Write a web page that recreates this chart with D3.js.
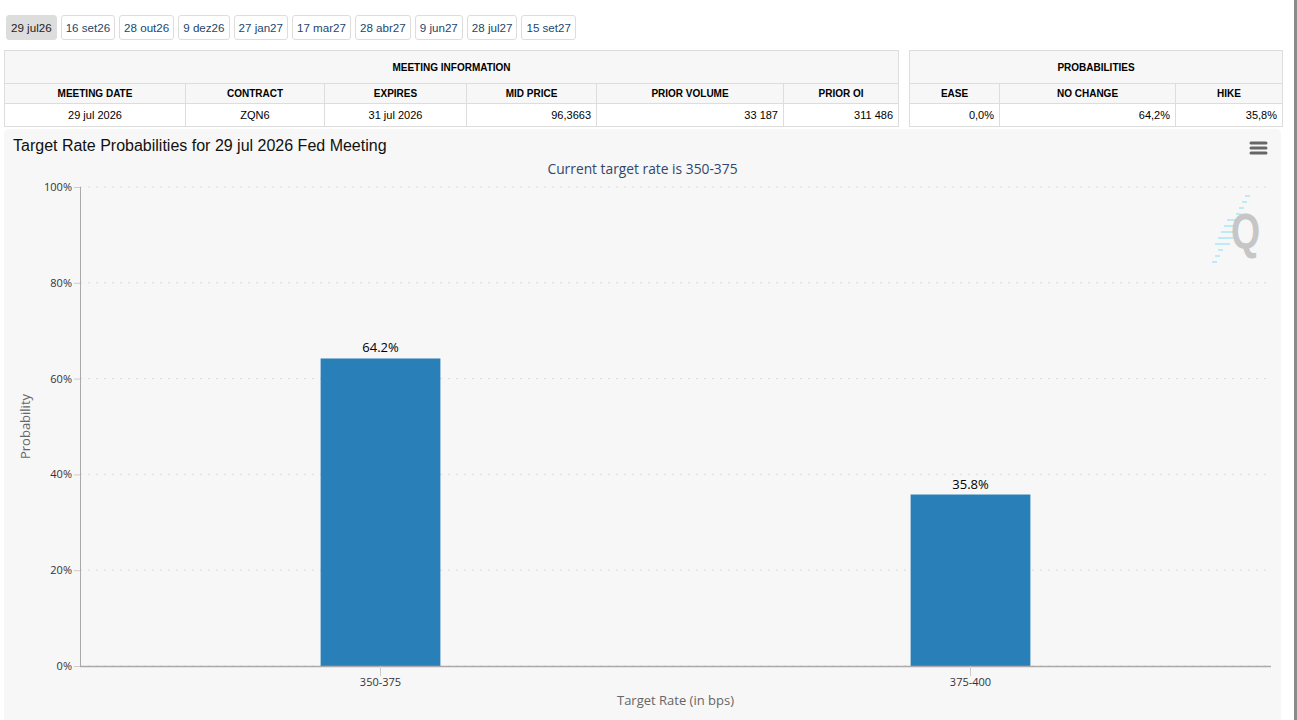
<!DOCTYPE html>
<html>
<head>
<meta charset="utf-8">
<script src="https://cdn.jsdelivr.net/npm/d3@7"></script>
<style>
  body { margin: 0; background: #fff; font-family: Arial, "Liberation Sans", sans-serif; width: 1297px; height: 720px; overflow: hidden; position: relative; }
  #tabs { position: absolute; left: 6px; top: 15px; display: flex; gap: 4px; }
  .tab { height: 23px; line-height: 23px; padding: 0 4px; border: 1px solid #ddd; border-radius: 3px; font-size: 11.6px; color: #23466e; background: #fff; white-space: nowrap; text-align: center; }
  .tab.active { background: #ddd; color: #222; border-color: #ddd; }
  table { position: absolute; border-collapse: collapse; table-layout: fixed; font-size: 11px; color: #000; }
  td, th { border: 1px solid #ddd; padding: 0 5px; overflow: hidden; white-space: nowrap; }
  th { font-size: 10px; font-weight: bold; background: #f7f7f7; text-align: center; }
  tr.title th { height: 32px; }
  tr.head th { height: 19px; }
  tr.data td { height: 22px; }
  #chart { position: absolute; left: 4px; top: 129px; width: 1277px; height: 600px; background: #f7f7f7; border-radius: 5px; }
  #scroll { position: absolute; left: 1294px; top: 0; width: 3px; height: 720px; background: #8a8a8a; }
</style>
</head>
<body>
<div id="tabs"></div>
<table id="meeting"></table>
<table id="probs"></table>
<div id="chart"></div>
<div id="scroll"></div>
<script>
// meeting tabs
var meetingTabs = ["29 jul26", "16 set26", "28 out26", "9 dez26", "27 jan27", "17 mar27", "28 abr27", "9 jun27", "28 jul27", "15 set27"];

// tables
var meetingHeaders = ["MEETING DATE", "CONTRACT", "EXPIRES", "MID PRICE", "PRIOR VOLUME", "PRIOR OI"];
var meetingRow = ["29 jul 2026", "ZQN6", "31 jul 2026", "96,3663", "33 187", "311 486"];
var meetingAlign = ["center", "center", "center", "right", "right", "right"];
var meetingWidths = [181, 139, 142, 130, 187, 115];

var probHeaders = ["EASE", "NO CHANGE", "HIKE"];
var probRow = ["0,0%", "64,2%", "35,8%"];
var probWidths = [90, 176, 107];

// chart data
var categories = ["350-375", "375-400"];
var probabilities = [64.2, 35.8];
var yTicks = [0, 20, 40, 60, 80, 100];

d3.select("#tabs").selectAll("div")
    .data(meetingTabs)
    .enter().append("div")
    .attr("class", function (d, i) { return i === 0 ? "tab active" : "tab"; })
    .text(function (d) { return d; });

function buildTable(sel, title, headers, row, widths, align, left, top) {
    var total = d3.sum(widths);
    var t = d3.select(sel)
        .style("left", left + "px")
        .style("top", top + "px")
        .style("width", total + "px");
    t.append("colgroup").selectAll("col")
        .data(widths).enter().append("col")
        .style("width", function (d) { return d + "px"; });
    t.append("tr").attr("class", "title")
        .append("th").attr("colspan", headers.length).text(title);
    t.append("tr").attr("class", "head").selectAll("th")
        .data(headers).enter().append("th").text(function (d) { return d; });
    t.append("tr").attr("class", "data").selectAll("td")
        .data(row).enter().append("td")
        .style("text-align", function (d, i) { return align[i]; })
        .text(function (d) { return d; });
}

buildTable("#meeting", "MEETING INFORMATION", meetingHeaders, meetingRow, meetingWidths, meetingAlign, 4, 50);
buildTable("#probs", "PROBABILITIES", probHeaders, probRow, probWidths, ["right", "right", "right"], 909, 50);

// chart
var W = 1277, H = 600;
var margin = { top: 58, right: 10, bottom: 63, left: 76 },
    width = W - margin.left - margin.right,
    height = 537 - margin.top;

var svg = d3.select("#chart").append("svg")
    .attr("width", W)
    .attr("height", H)
    .style("font-family", "'Open Sans', sans-serif");

svg.append("text")
    .attr("x", 9)
    .attr("y", 22)
    .style("font-family", "Arial, 'Liberation Sans', sans-serif")
    .style("font-size", "16px")
    .attr("fill", "#111")
    .text("Target Rate Probabilities for 29 jul 2026 Fed Meeting");

svg.append("text")
    .attr("x", W / 2)
    .attr("y", 45)
    .attr("text-anchor", "middle")
    .style("font-size", "13.8px")
    .attr("fill", "#34466b")
    .text("Current target rate is " + categories[0]);

// menu icon
svg.append("g").selectAll("line")
    .data([0, 1, 2]).enter().append("line")
    .attr("x1", 1247).attr("x2", 1262)
    .attr("y1", function (d) { return 14 + d * 5; })
    .attr("y2", function (d) { return 14 + d * 5; })
    .attr("stroke", "#666")
    .attr("stroke-width", 3)
    .attr("stroke-linecap", "round");

// watermark logo
var logo = svg.append("g").attr("transform", "translate(1205,64)");
logo.selectAll("line")
    .data(d3.range(12)).enter().append("line")
    .attr("x1", function (d) { return 36 - d * 3 - (d > 3 && d < 9 ? 6 : 0); })
    .attr("x2", function (d) { return 41 - d * 3 + (d > 3 && d < 9 ? 4 : 0); })
    .attr("y1", function (d) { return 3 + d * 6; })
    .attr("y2", function (d) { return 3 + d * 6; })
    .attr("stroke", "#bdeaf7")
    .attr("stroke-width", 2);
logo.append("text")
    .attr("transform", "translate(22,56) scale(0.75,1)")
    .style("font-family", "Arial, 'Liberation Sans', sans-serif")
    .style("font-size", "50px")
    .style("font-weight", "bold")
    .attr("fill", "#c6c6c6")
    .text("Q");

var g = svg.append("g")
    .attr("transform", "translate(" + margin.left + "," + margin.top + ")");

var x = d3.scaleBand()
    .domain(categories)
    .range([5.5, width - 5.5]);

var y = d3.scaleLinear()
    .domain([0, 100])
    .range([height, 0]);

// grid
g.append("g").selectAll("line")
    .data(yTicks).enter().append("line")
    .attr("x1", 0).attr("x2", width)
    .attr("y1", function (d) { return y(d); })
    .attr("y2", function (d) { return y(d); })
    .attr("stroke", "#d8d8d8")
    .attr("stroke-dasharray", "2,6");

// y axis
var yaxis = g.append("g")
    .call(d3.axisLeft(y).tickValues(yTicks).tickSize(6).tickPadding(2)
        .tickFormat(function (d) { return d + "%"; }));
yaxis.select(".domain").attr("stroke", "#aaa").attr("d", "M0.5,0V" + height);
yaxis.selectAll(".tick line").attr("stroke", "#ccc");
yaxis.selectAll(".tick text")
    .attr("fill", "#333")
    .style("font-size", "11px")
    .style("font-family", "'Open Sans', sans-serif");

// bars
var barW = x.bandwidth() * 0.203;
g.selectAll(".bar")
    .data(probabilities).enter().append("rect")
    .attr("class", "bar")
    .attr("x", function (d, i) { return x(categories[i]) + x.bandwidth() / 2 - barW / 2; })
    .attr("y", function (d) { return y(d); })
    .attr("width", barW)
    .attr("height", function (d) { return height - y(d); })
    .attr("fill", "#2980b9");

g.selectAll(".lbl")
    .data(probabilities).enter().append("text")
    .attr("class", "lbl")
    .attr("x", function (d, i) { return x(categories[i]) + x.bandwidth() / 2; })
    .attr("y", function (d) { return y(d) - 6; })
    .attr("text-anchor", "middle")
    .style("font-size", "13px")
    .attr("fill", "#000")
    .text(function (d) { return d.toFixed(1) + "%"; });

// x axis
var xaxis = g.append("g")
    .attr("transform", "translate(0," + height + ")")
    .call(d3.axisBottom(x).tickSize(10).tickPadding(2));
xaxis.select(".domain").attr("stroke", "#aaa").attr("stroke-width", 1.5).attr("d", "M0,0.5H" + width);
xaxis.selectAll(".tick line").attr("stroke", "#ccc");
xaxis.selectAll(".tick text")
    .attr("fill", "#333")
    .style("font-size", "11px")
    .style("font-family", "'Open Sans', sans-serif");

svg.append("text")
    .attr("x", margin.left + width / 2)
    .attr("y", 576)
    .attr("text-anchor", "middle")
    .style("font-size", "13px")
    .attr("fill", "#666")
    .text("Target Rate (in bps)");

svg.append("text")
    .attr("transform", "translate(26," + (margin.top + height / 2) + ") rotate(-90)")
    .attr("text-anchor", "middle")
    .style("font-size", "13px")
    .attr("fill", "#666")
    .text("Probability");
</script>
</body>
</html>
